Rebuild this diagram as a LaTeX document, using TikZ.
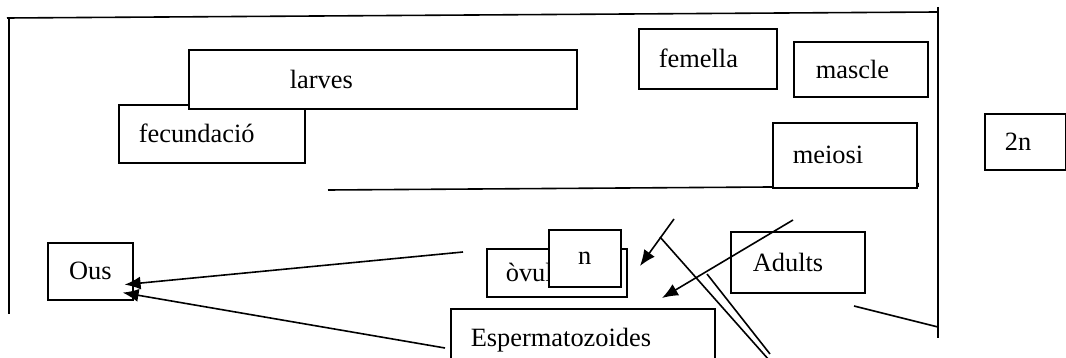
\documentclass[tikz,border=0pt]{standalone}
\usepackage{fontspec}
\setmainfont{Liberation Serif}
\usetikzlibrary{arrows.meta}

\begin{document}
\begin{tikzpicture}[x=1pt, y=-1pt, line width=1.6pt,
		caixa/.style={draw, fill=white, anchor=north west, align=left, inner ysep=0pt, inner xsep=20pt,
			font=\fontsize{26.4}{30}\selectfont},
		fletxa/.style={-{Latex[length=16pt, width=13pt]}}]
		\useasboundingbox (0,0) rectangle (1066,358);
		\clip (0,0) rectangle (1066,358);

		% marc
		\draw (7,18) -- (937,12);
		\draw (9,18) -- (9,314);
		\draw (938,7) -- (938,338);
		\draw (854,306) -- (938,327);
		\draw (328,190) -- (918,186) -- (918,183);

		\node[caixa, minimum width=186pt, minimum height=58pt, text width=146pt] (fecundacio) at (118,104) {fecundació};
		\node[caixa, minimum width=388pt, minimum height=59pt, inner xsep=101pt, text width=186pt] (larves) at (188,49) {larves};
		\node[caixa, minimum width=138pt, minimum height=60pt, text width=98pt] (femella) at (638,28) {femella};
		\node[caixa, minimum width=134pt, minimum height=55pt, inner xsep=22pt, text width=90pt] (mascle) at (793,41) {mascle};
		\node[caixa, minimum width=144pt, minimum height=65pt, text width=104pt] (meiosi) at (772,122) {meiosi};
		\node[caixa, minimum width=81pt, minimum height=56pt, text width=41pt] (dosn) at (984,113) {2n};
		\node[caixa, align=center, minimum width=85pt, minimum height=57pt, text width=45pt] (ous) at (47,242) {Ous};
		\node[caixa, minimum width=140pt, minimum height=48pt, inner xsep=19pt, text width=102pt] (ovul) at (486,248) {òvul};
		\node[caixa, align=center, minimum width=72pt, minimum height=57pt, text width=32pt] (n) at (548,229) {n};
		\node[caixa, minimum width=264pt, minimum height=62pt, text width=224pt] (espermatozoides) at (450,308) {Espermatozoides};
		\node[caixa, minimum width=134pt, minimum height=61pt, inner xsep=22pt, text width=90pt] (adults) at (730,231) {Adults};

		\coordinate (ovul-a) at (463,252);
		\coordinate (esp-a) at (445,348);
		\coordinate (n-a) at (674,219);
		\coordinate (n-b) at (640,266);
		\coordinate (adults-a) at (793,220);
		\coordinate (adults-b) at (662,298);
		\coordinate (linia-a) at (660,237);
		\coordinate (linia-b) at (769,360);
		\coordinate (linia-c) at (707,274);
		\coordinate (linia-d) at (770,354);

		\draw[fletxa] (ovul-a) to ([xshift=-9pt, yshift=16pt]ous.south east);
		\draw[fletxa] (esp-a) to ([xshift=-11pt, yshift=8pt]ous.south east);
		\draw[fletxa] (n-a) to (n-b);
		\draw[fletxa] (adults-a) to (adults-b);
		\draw (linia-a) to (linia-b);
		\draw (linia-c) to (linia-d);
	\end{tikzpicture}
\end{document}
